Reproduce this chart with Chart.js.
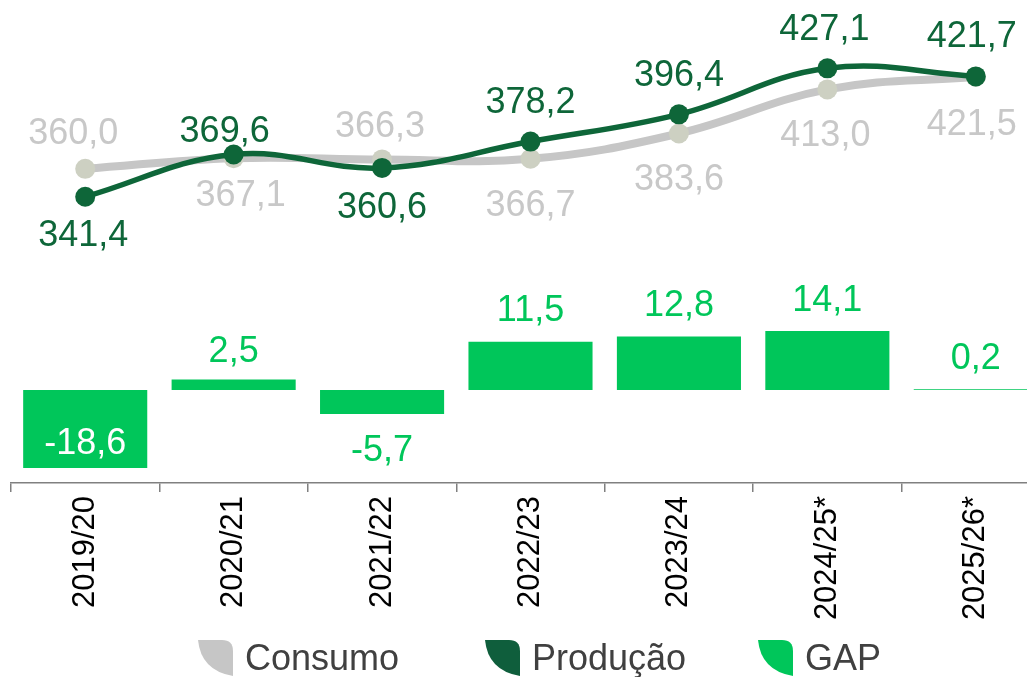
<!DOCTYPE html>
<html lang="pt-BR">
<head>
<meta charset="UTF-8">
<title>Consumo x Produção</title>
<script src="https://cdn.jsdelivr.net/npm/chart.js@4.4.1/dist/chart.umd.min.js"></script>
<style>
  html, body { margin: 0; padding: 0; background: #fff; overflow: hidden; }
  #gapChart { display: block; }
</style>
</head>
<body>
<canvas id="gapChart" width="1050" height="677"></canvas>
<script>
// Chart data
const safras = ["2019/20", "2020/21", "2021/22", "2022/23", "2023/24", "2024/25*", "2025/26*"];
const consumo = [360.0, 367.1, 366.3, 366.7, 383.6, 413.0, 421.5];
const producao = [341.4, 369.6, 360.6, 378.2, 396.4, 427.1, 421.7];
const gap = [-18.6, 2.5, -5.7, 11.5, 12.8, 14.1, 0.2];
const legendNames = ["Consumo", "Produção", "GAP"];

// Colours
const GREY_LINE = "#c6c6c6";
const GREY_POINT = "#cdd0c2";
const GREY_TEXT = "#c8c8c8";
const DARK_GREEN = "#0e6639";
const GREEN = "#00c65a";
const FONT = "'Liberation Sans', Arial, Helvetica, sans-serif";

// Value label placement (px offset from the point / bar end)
const consumoLabelDx = [-12, 7, -2, 0, 0, -2, -4];
const consumoLabelDy = [-38, 35, -35, 44, 44, 44, 45];
const producaoLabelDx = [-2, -9, 0, 0, 0, -3, -4];
const producaoLabelDy = [36, -25, 37, -42, -41, -41, -42];
const gapLabelDy = [-27, -31, 34, -34, -33, -33, -33];
const gapLabelColor = ["#ffffff", GREEN, GREEN, GREEN, GREEN, GREEN, GREEN];

// Legend placement
const legendX = [198, 485, 758];
const legendColors = [GREY_LINE, "#0f5e3c", GREEN];

function fmt(v) {
  return v.toFixed(1).replace(".", ",");
}

// Draws the value labels of every dataset
const valueLabels = {
  id: "valueLabels",
  afterDatasetsDraw(chart) {
    const ctx = chart.ctx;
    ctx.save();
    ctx.font = "36px " + FONT;
    ctx.textAlign = "center";
    ctx.textBaseline = "alphabetic";
    chart.data.datasets.forEach((ds, di) => {
      const meta = chart.getDatasetMeta(di);
      meta.data.forEach((el, i) => {
        const dx = ds.labelDx ? ds.labelDx[i] : 0;
        const dy = ds.labelDy[i];
        const color = Array.isArray(ds.labelColor) ? ds.labelColor[i] : ds.labelColor;
        ctx.fillStyle = color;
        // 0.358em ~ half the digit height, so dy is the text centre
        ctx.fillText(fmt(ds.data[i]), el.x + dx, el.y + dy + 13);
      });
    });
    ctx.restore();
  },
};

// Leaf shaped legend icon
function drawLeaf(ctx, x, y, w, h, color) {
  ctx.beginPath();
  ctx.moveTo(x, y);
  ctx.lineTo(x + w - 11, y);
  ctx.quadraticCurveTo(x + w, y, x + w, y + 11);
  ctx.lineTo(x + w, y + h);
  ctx.quadraticCurveTo(x + 3, y + h * 0.85, x, y);
  ctx.closePath();
  ctx.fillStyle = color;
  ctx.fill();
}

const leafLegend = {
  id: "leafLegend",
  afterDraw(chart) {
    const ctx = chart.ctx;
    ctx.save();
    ctx.font = "36px " + FONT;
    ctx.textAlign = "left";
    ctx.textBaseline = "alphabetic";
    legendNames.forEach((name, i) => {
      drawLeaf(ctx, legendX[i], 640, 35, 36, legendColors[i]);
      ctx.fillStyle = "#404040";
      ctx.fillText(name, legendX[i] + 47, 670);
    });
    ctx.restore();
  },
};

document.addEventListener("DOMContentLoaded", () => {
  const ctx = document.getElementById("gapChart");

  Chart.defaults.font.family = FONT;

  new Chart(ctx, {
    type: "bar",
    data: {
      labels: safras,
      datasets: [
        {
          type: "line",
          label: legendNames[1],
          data: producao,
          yAxisID: "yLine",
          borderColor: DARK_GREEN,
          backgroundColor: DARK_GREEN,
          borderWidth: 5.5,
          pointRadius: 10,
          pointBackgroundColor: DARK_GREEN,
          pointBorderWidth: 0,
          tension: 0.4,
          order: 0,
          labelDx: producaoLabelDx,
          labelDy: producaoLabelDy,
          labelColor: DARK_GREEN,
        },
        {
          type: "line",
          label: legendNames[0],
          data: consumo,
          yAxisID: "yLine",
          borderColor: GREY_LINE,
          backgroundColor: GREY_POINT,
          borderWidth: 8,
          pointRadius: 10,
          pointBackgroundColor: GREY_POINT,
          pointBorderWidth: 0,
          tension: 0.4,
          order: 1,
          labelDx: consumoLabelDx,
          labelDy: consumoLabelDy,
          labelColor: GREY_TEXT,
        },
        {
          type: "bar",
          label: legendNames[2],
          data: gap,
          yAxisID: "yBar",
          backgroundColor: GREEN,
          borderWidth: 0,
          barPercentage: 0.836,
          categoryPercentage: 1,
          order: 2,
          labelDy: gapLabelDy,
          labelColor: gapLabelColor,
        },
      ],
    },
    options: {
      responsive: false,
      animation: false,
      layout: {
        autoPadding: false,
        padding: { left: 11, right: 0, top: 0, bottom: 0 },
      },
      scales: {
        x: {
          offset: true,
          border: { display: true, color: "#808080", width: 1.5 },
          grid: {
            offset: true,
            drawOnChartArea: false,
            drawTicks: true,
            tickLength: 9,
            color: "#808080",
            lineWidth: 1.5,
          },
          ticks: {
            color: "#000000",
            font: { size: 31 },
            minRotation: 90,
            maxRotation: 90,
            padding: 4,
            autoSkip: false,
          },
          // leave room below the axis for the legend
          afterFit: (scale) => {
            scale.height = 194;
          },
        },
        yLine: {
          display: false,
          min: 150.3,
          max: 472.7,
        },
        yBar: {
          display: false,
          min: -22.2,
          max: 93.1,
        },
      },
      plugins: {
        legend: { display: false },
        tooltip: { enabled: false },
      },
    },
    plugins: [valueLabels, leafLegend],
  });
});
</script>
</body>
</html>
